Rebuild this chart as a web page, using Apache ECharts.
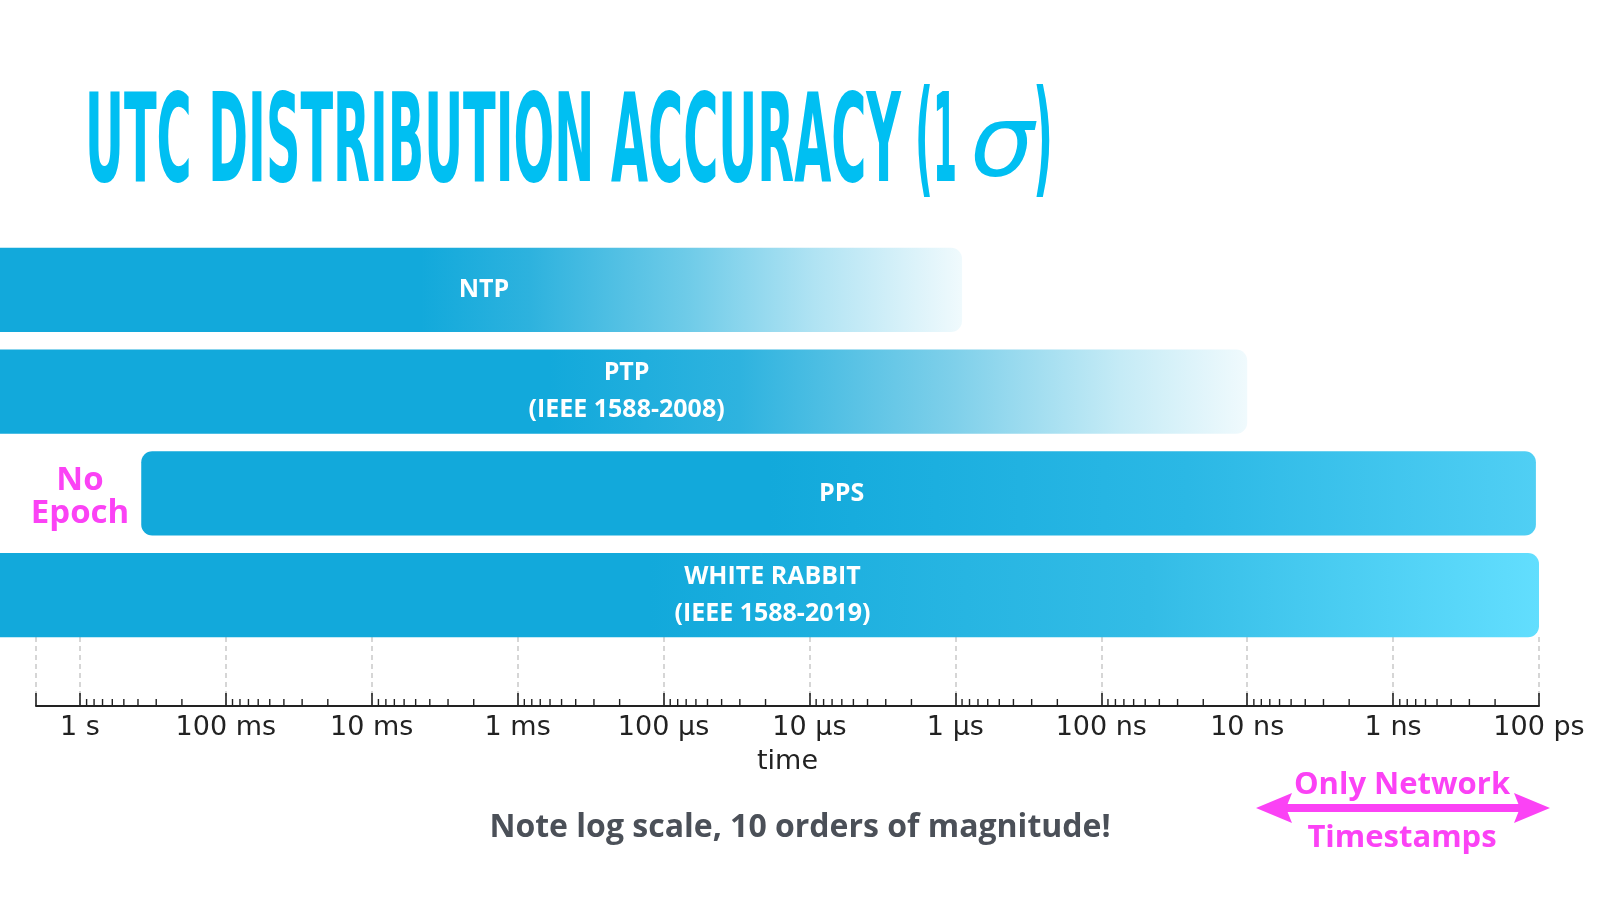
<!DOCTYPE html>
<html>
<head>
<meta charset="utf-8">
<script src="https://cdn.jsdelivr.net/npm/echarts@6/dist/echarts.min.js"></script>
<style>
html,body{margin:0;padding:0;background:#fff;}
#c{width:1600px;height:900px;}
</style>
</head>
<body>
<div id="c"></div>
<script>
// ---------------- data ----------------
const CATEGORIES = ['NTP', 'PTP', 'PPS', 'WHITE RABBIT'];
const BAR_LABELS = ['NTP', 'PTP\n(IEEE 1588-2008)', 'PPS', 'WHITE RABBIT\n(IEEE 1588-2019)'];
const WORST_S = [5, 5, 0.38, 5];              // left end of each bar (seconds)
const BEST_S = [9e-7, 1e-8, 1.05e-10, 1e-10]; // right end of each bar (seconds)
const TICK_EXPONENTS = [0, -1, -2, -3, -4, -5, -6, -7, -8, -9, -10];
const TICK_LABELS = ['1 s', '100 ms', '10 ms', '1 ms', '100 µs', '10 µs', '1 µs', '100 ns', '10 ns', '1 ns', '100 ps'];
const MINOR_MULTIPLIERS = [2, 3, 4, 5, 6, 7, 8, 9];
const AXIS_MIN_S = 1e-10;
const AXIS_MAX_S = 2;

// ---------------- styles ----------------
const BAR_GRADIENTS = [
  [[0, '#12a9db'], [0.45, '#12a9db'], [0.56, '#2db2de'], [0.72, '#6ecbe8'], [0.85, '#b0e3f3'], [1, '#f0fafd']],
  [[0, '#12a9db'], [0.45, '#12a9db'], [0.6, '#2eb3df'], [0.77, '#7fd0ea'], [0.9, '#c5ebf6'], [1, '#f0fafd']],
  [[0, '#12a9db'], [0.45, '#12a9db'], [0.75, '#2bb8e5'], [1, '#50cff4']],
  [[0, '#12a9db'], [0.43, '#12a9db'], [0.75, '#33bce6'], [1, '#62defe']]
];
const MAGENTA = '#fb42f5';
const TITLE_COLOR = '#00bff2';
const LABEL_FONT = '"Open Sans", "Lato", sans-serif';

// log10 transform: the axes are drawn in decades of seconds
const lg = Math.log10;
const minorValues = [];
TICK_EXPONENTS.slice(0, -1).forEach(function (e) {
  MINOR_MULTIPLIERS.forEach(function (m) { minorValues.push([lg(m * Math.pow(10, e - 1))]); });
});

function labelFor(v) {
  const e = Math.round(v);
  if (Math.abs(v - e) > 1e-6) return '';
  const idx = TICK_EXPONENTS.indexOf(e);
  return idx >= 0 ? TICK_LABELS[idx] : '';
}

const measureCtx = document.createElement('canvas').getContext('2d');
function fitScale(text, font, width) {
  measureCtx.font = font;
  return width / measureCtx.measureText(text).width;
}
function titlePiece(text, font, x, width, y) {
  return {
    type: 'text', x: x, y: y, scaleX: fitScale(text, font, width), silent: true,
    style: { text: text, font: font, fill: TITLE_COLOR, align: 'left', verticalAlign: 'middle',
             textAlign: 'left', textVerticalAlign: 'middle' }
  };
}

const TITLE_FONT = 'bold 123px "DejaVu Sans Condensed", "DejaVu Sans"';
const PAREN_FONT = 'bold 126px "DejaVu Sans Condensed", "DejaVu Sans"';
const SIGMA_FONT = 'italic 100px "DejaVu Sans"';

const xBase = { type: 'value', min: lg(AXIS_MIN_S), max: lg(AXIS_MAX_S), interval: 1, inverse: true };

const chart = echarts.init(document.getElementById('c'), null, { renderer: 'canvas' });

chart.setOption({
  backgroundColor: '#ffffff',
  animation: false,
  grid: [
    { left: 36, right: 61, top: 239, height: 407 },
    { left: 36, right: 61, top: 637, bottom: 194 }
  ],
  xAxis: [
    Object.assign({}, xBase, { gridIndex: 0, show: false }),
    Object.assign({}, xBase, {
      gridIndex: 1,
      axisLine: { show: true, onZero: false, lineStyle: { color: '#222', width: 2 } },
      axisTick: { show: true, inside: true, length: 13, lineStyle: { color: '#222', width: 1.6 } },
      minorTick: { show: false },
      splitLine: { show: true, lineStyle: { type: [5, 4], color: '#c9c9c9', width: 1.5 } },
      axisLabel: {
        formatter: labelFor, fontSize: 27, color: '#222', fontFamily: '"DejaVu Sans"',
        margin: 8, showMinLabel: true, showMaxLabel: true, hideOverlap: false
      },
      name: 'time',
      nameLocation: 'middle',
      nameGap: 42,
      nameTextStyle: { fontSize: 27, color: '#222', fontFamily: '"DejaVu Sans"' }
    })
  ],
  yAxis: [
    { type: 'category', gridIndex: 0, data: CATEGORIES, inverse: true, show: false },
    { type: 'value', gridIndex: 1, min: 0, max: 1, show: false }
  ],
  series: [
    {
      type: 'custom',
      name: 'accuracy',
      xAxisIndex: 0,
      yAxisIndex: 0,
      clip: false,
      encode: { x: [0, 1], y: 2 },
      data: CATEGORIES.map(function (c, i) { return [lg(WORST_S[i]), lg(BEST_S[i]), i]; }),
      renderItem: function (params, api) {
        const i = api.value(2);
        const a = api.coord([api.value(0), i]);
        const b = api.coord([api.value(1), i]);
        const band = api.size([1, 1])[1];
        const h = band * 0.826;
        const x0 = a[0], x1 = b[0];
        const cx = (Math.max(x0, 0) + x1) / 2;
        return {
          type: 'group',
          children: [
            {
              type: 'rect',
              shape: { x: x0, y: a[1] - h / 2, width: x1 - x0, height: h, r: 11 },
              style: {
                fill: new echarts.graphic.LinearGradient(0, 0, 1, 0,
                  BAR_GRADIENTS[i].map(function (s) { return { offset: s[0], color: s[1] }; }))
              }
            },
            {
              type: 'text',
              x: cx + 3, y: a[1],
              style: {
                text: BAR_LABELS[i], fill: '#ffffff', font: 'bold 25px ' + LABEL_FONT,
                align: 'center', verticalAlign: 'middle', lineHeight: 37
              }
            }
          ]
        };
      }
    },
    {
      type: 'custom',
      name: 'minor ticks',
      xAxisIndex: 1,
      yAxisIndex: 1,
      silent: true,
      encode: { x: 0 },
      data: minorValues,
      renderItem: function (params, api) {
        const p = api.coord([api.value(0), 0]);
        return {
          type: 'line',
          shape: { x1: p[0], y1: p[1], x2: p[0], y2: p[1] - 7 },
          style: { stroke: '#222', lineWidth: 1.4 }
        };
      }
    }
  ],
  graphic: [
    titlePiece('UTC DISTRIBUTION ACCURACY', TITLE_FONT, 85, 816, 149),
    titlePiece('(', PAREN_FONT, 915, 18, 147),
    titlePiece('1', TITLE_FONT, 933, 24, 149),
    titlePiece('σ', SIGMA_FONT, 970, 64, 150),
    titlePiece(')', PAREN_FONT, 1033, 20, 147),
    {
      type: 'text', x: 80, y: 497, silent: true,
      style: { text: 'No\nEpoch', font: 'bold 33px ' + LABEL_FONT, fill: MAGENTA,
               align: 'center', verticalAlign: 'middle', lineHeight: 33 }
    },
    {
      type: 'text', x: 800, y: 828, silent: true,
      style: { text: 'Note log scale, 10 orders of magnitude!', font: 'bold 32px ' + LABEL_FONT,
               fill: '#4b5058', align: 'center', verticalAlign: 'middle' }
    },
    {
      type: 'text', x: 1402, y: 785, silent: true,
      style: { text: 'Only Network', font: 'bold 31px ' + LABEL_FONT, fill: MAGENTA,
               align: 'center', verticalAlign: 'middle' }
    },
    {
      type: 'text', x: 1402, y: 838, silent: true,
      style: { text: 'Timestamps', font: 'bold 31px ' + LABEL_FONT, fill: MAGENTA,
               align: 'center', verticalAlign: 'middle' }
    },
    {
      type: 'line', silent: true,
      shape: { x1: 1280, y1: 808, x2: 1526, y2: 808 },
      style: { stroke: MAGENTA, lineWidth: 8 }
    },
    {
      type: 'polygon', silent: true,
      shape: { points: [[1256, 808], [1292, 793], [1286, 808], [1292, 823]] },
      style: { fill: MAGENTA }
    },
    {
      type: 'polygon', silent: true,
      shape: { points: [[1550, 808], [1514, 793], [1520, 808], [1514, 823]] },
      style: { fill: MAGENTA }
    }
  ]
});
</script>
</body>
</html>
